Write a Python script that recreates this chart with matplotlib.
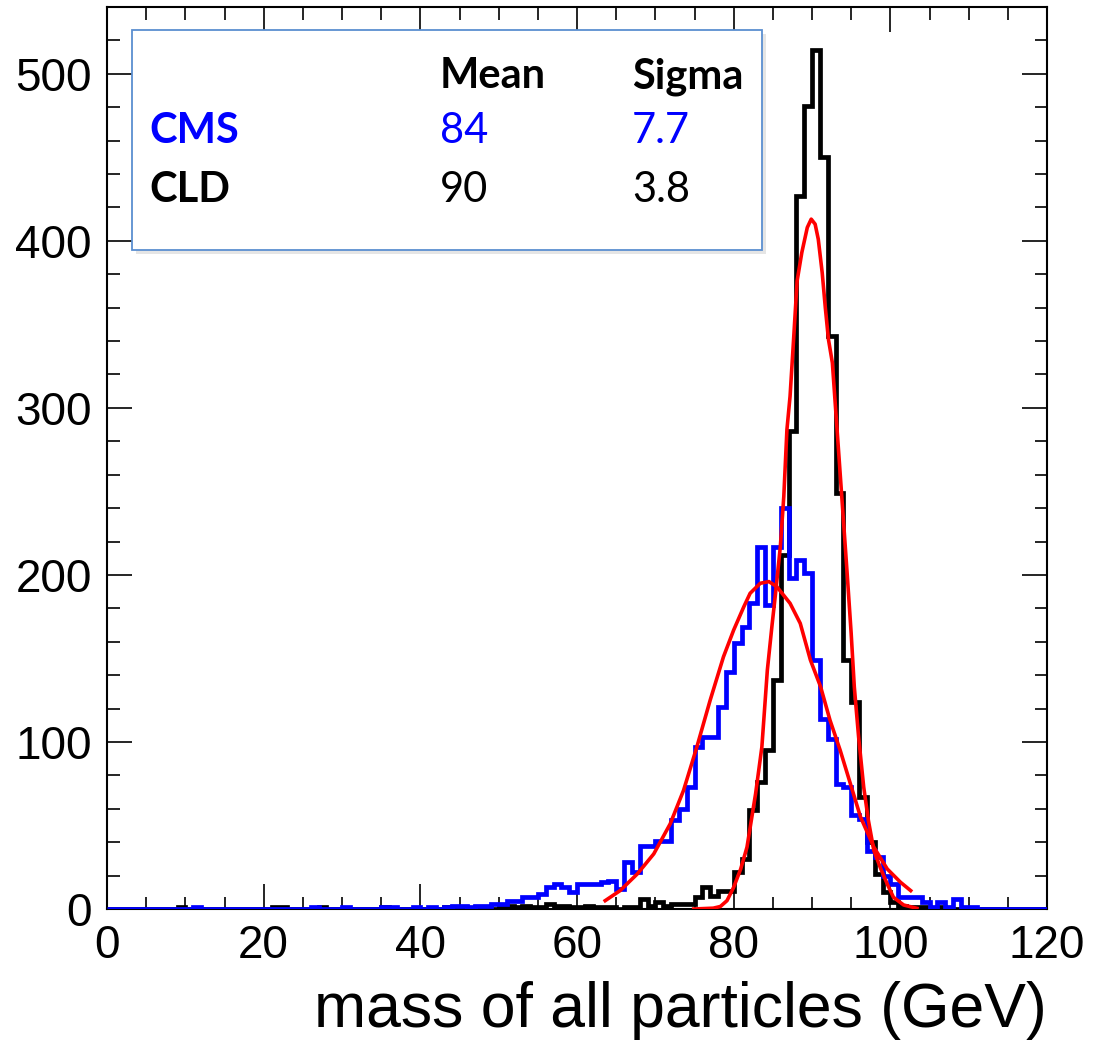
import numpy as np
import matplotlib
matplotlib.use('Agg')
import matplotlib.pyplot as plt
from matplotlib.patches import Rectangle

# 1 GeV bins from 0 to 120
bin_edges = np.arange(0, 121, 1)

cld_counts = [0] * 120
cld_nonzero = {9: 1, 21: 1, 22: 1, 27: 1, 35: 1, 43: 1, 47: 1, 50: 1, 51: 2, 52: 1,
               53: 2, 54: 1, 55: 1, 56: 3, 57: 2, 58: 2, 59: 1, 60: 1, 61: 2, 62: 1,
               63: 1, 64: 1, 66: 1, 67: 1, 68: 6, 69: 2, 70: 4, 71: 2, 72: 3, 73: 3,
               74: 3, 75: 7, 76: 13, 77: 8, 78: 11, 79: 11, 80: 22, 81: 30, 82: 59,
               83: 76, 84: 95, 85: 137, 86: 212, 87: 286, 88: 427, 89: 481, 90: 514,
               91: 450, 92: 343, 93: 249, 94: 149, 95: 124, 96: 67, 97: 40, 98: 21,
               99: 10, 100: 4, 101: 2, 102: 1, 103: 1, 104: 1, 106: 1}
for k, v in cld_nonzero.items():
    cld_counts[k] = v

cms_counts = [0] * 120
cms_nonzero = {11: 1, 26: 1, 30: 1, 35: 1, 36: 1, 39: 1, 41: 1, 43: 1, 44: 2, 45: 2,
               46: 1, 47: 2, 48: 2, 49: 3, 50: 3, 51: 5, 52: 5, 53: 7, 54: 7, 55: 9,
               56: 13, 57: 15, 58: 13, 59: 10, 60: 15, 61: 15, 62: 15, 63: 16, 64: 17,
               65: 12, 66: 28, 67: 22, 68: 38, 69: 38, 70: 41, 71: 41, 72: 53, 73: 60,
               74: 73, 75: 97, 76: 103, 77: 103, 78: 121, 79: 142, 80: 159, 81: 169,
               82: 183, 83: 217, 84: 182, 85: 217, 86: 240, 87: 198, 88: 209, 89: 201,
               90: 149, 91: 114, 92: 102, 93: 75, 94: 73, 95: 56, 96: 54, 97: 35,
               98: 31, 99: 20, 100: 15, 101: 7, 102: 7, 103: 7, 104: 4, 105: 1,
               106: 4, 107: 1, 108: 6, 109: 1, 110: 1}
for k, v in cms_nonzero.items():
    cms_counts[k] = v

# fitted curves
cms_fit_x = [63.6, 65.5, 67.7, 69.8, 71.9, 73.6, 75.3, 77.0, 78.7, 80.0, 81.3, 82.1,
             83.4, 84.5, 85.5, 87.2, 88.5, 89.8, 91.1, 92.3, 93.6, 94.9, 96.2, 97.9,
             99.6, 101.3, 102.6]
cms_fit_y = [5, 11, 21, 33, 51, 71, 97, 125, 151, 167, 181, 189,
             195, 196, 193, 183, 171, 149, 133, 113, 95, 75, 55, 37,
             24, 16, 11]

cld_fit_x = [74.9, 77.4, 78.3, 79.15, 80.0, 80.9, 81.7, 82.8, 83.6, 84.3, 84.9, 85.3,
             85.96, 86.4, 86.8, 87.2, 87.65, 88.1, 88.7, 89.4, 89.9, 90.4, 90.8, 91.3,
             91.7, 92.1, 92.6, 93.2, 93.8, 94.5, 95.0, 95.4, 95.95, 96.6, 97.2, 97.9,
             98.7, 99.6, 100.4, 101.7, 103.4]
cld_fit_y = [0, 0.5, 1.5, 5, 13, 24, 37, 69, 97, 143, 170, 187,
             217, 247, 287, 307, 341, 376, 393, 408, 413, 410, 401, 381,
             360, 341, 327, 287, 247, 200, 165, 133, 103, 73, 53, 35,
             25, 15, 7, 2.4, 0.4]

# box contents
col_headers = ['Mean', 'Sigma']
row_names = ['CMS', 'CLD']
row_means = ['84', '90']
row_sigmas = ['7.7', '3.8']
row_colors = ['#0000ff', 'black']

W, H = 1093, 1048
fig = plt.figure(figsize=(W / 100, H / 100), dpi=100)
ax = fig.add_axes([107 / W, 1 - 909 / H, 940 / W, 902 / H])

ax.stairs(cld_counts, bin_edges, color='black', lw=3.4, zorder=2)
ax.stairs(cms_counts, bin_edges, color='#0000ff', lw=3.4, zorder=3)
ax.plot(cms_fit_x, cms_fit_y, color='#ff0000', lw=2.6, zorder=4)
ax.plot(cld_fit_x, cld_fit_y, color='#ff0000', lw=2.6, zorder=4)

ax.set_xlim(0, 120)
ax.set_ylim(0, 540)
ax.set_xticks(np.arange(0, 121, 20))
ax.set_xticks(np.arange(0, 121, 5), minor=True)
ax.set_yticks(np.arange(0, 501, 100))
ax.set_yticks(np.arange(0, 541, 20), minor=True)

tickfont = 'Liberation Sans'
ax.tick_params(which='both', direction='in', top=True, right=True, width=1.2)
ax.tick_params(which='major', length=18, labelsize=33, pad=11)
ax.tick_params(which='minor', length=9)
for lab in ax.get_xticklabels() + ax.get_yticklabels():
    lab.set_fontfamily(tickfont)
for sp in ax.spines.values():
    sp.set_linewidth(1.5)

ax.set_xlabel('mass of all particles (GeV)', fontsize=45, family=tickfont,
              loc='right', labelpad=9)

# stats box, drawn in figure pixels
def fx(px):
    return px / W

def fy(py):
    return 1 - py / H

shadow = Rectangle((fx(136), fy(254)), fx(630), 220 / H, transform=fig.transFigure,
                   facecolor='#cccccc', edgecolor='none', alpha=0.5, zorder=5)
box = Rectangle((fx(132), fy(250)), fx(630), 220 / H, transform=fig.transFigure,
                facecolor='white', edgecolor='#5b8fd0', lw=1.3, zorder=6)
fig.patches.extend([shadow, box])

boxfont = 'Lato'
fs = 30
fig.text(fx(440), fy(88), col_headers[0], fontsize=fs, family=boxfont,
         fontweight='bold', color='black', zorder=7)
fig.text(fx(632), fy(88), col_headers[1], fontsize=fs, family=boxfont,
         fontweight='bold', color='black', zorder=7)
row_base = [143, 202]
for i in range(2):
    fig.text(fx(149), fy(row_base[i]), row_names[i], fontsize=fs, family=boxfont,
             fontweight='bold', color=row_colors[i], zorder=7)
    fig.text(fx(440), fy(row_base[i]), row_means[i], fontsize=fs, family=boxfont,
             color=row_colors[i], zorder=7)
    fig.text(fx(632), fy(row_base[i]), row_sigmas[i], fontsize=fs, family=boxfont,
             color=row_colors[i], zorder=7)

fig.savefig('out.png', dpi=100)
